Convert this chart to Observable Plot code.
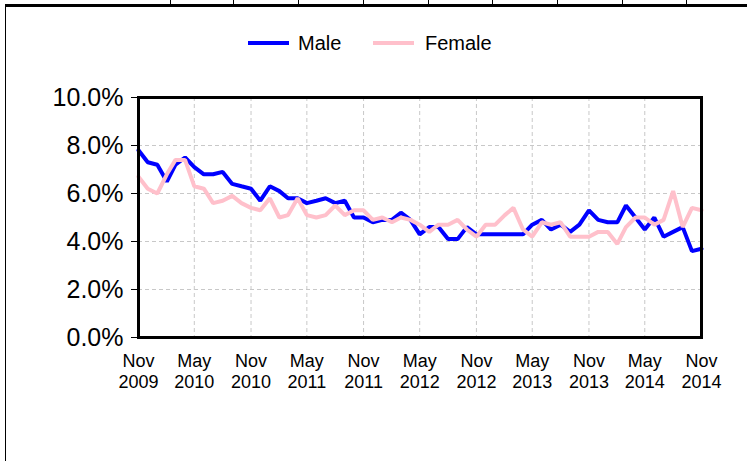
<!DOCTYPE html>
<html>
<head>
<meta charset="utf-8">
<script src="https://cdn.jsdelivr.net/npm/d3@7"></script>
<script src="https://cdn.jsdelivr.net/npm/@observablehq/plot@0.6"></script>
<style>
  html, body { margin: 0; padding: 0; background: #fff; }
  body { width: 747px; height: 461px; position: relative; overflow: hidden; font-family: "Liberation Sans", Arial, sans-serif; }
  .hline { position: absolute; left: 5px; right: 0; top: 4px; height: 3px; background: #000; }
  .vsep { position: absolute; top: 0; width: 1px; height: 5px; background: #000; }
  .lborder { position: absolute; left: 5px; top: 5px; bottom: 0; width: 1px; background: #000; }
  #legend { position: absolute; left: 0; top: 0; width: 747px; height: 70px; }
  .sw { position: absolute; top: 41px; width: 41px; height: 4px; }
  .lab { position: absolute; top: 31px; font-size: 20px; line-height: 24px; color: #000; }
  #chart { position: absolute; left: 0; top: 70px; }
</style>
</head>
<body>
<div id="decor"></div>
<div id="legend"></div>
<div id="chart"></div>
<script>
const startMonth = "2009-11-01";
const seriesNames = ["Male", "Female"];
const seriesColors = ["#0000ff", "#ffc0cb"];
const male = [7.8,7.3,7.2,6.5,7.2,7.5,7.1,6.8,6.8,6.9,6.4,6.3,6.2,5.7,6.3,6.1,5.8,5.8,5.6,5.7,5.8,5.6,5.7,5.0,5.0,4.8,4.9,4.9,5.2,4.9,4.3,4.6,4.6,4.1,4.1,4.6,4.3,4.3,4.3,4.3,4.3,4.3,4.7,4.9,4.5,4.7,4.4,4.7,5.3,4.9,4.8,4.8,5.5,5.0,4.5,5.0,4.2,4.4,4.6,3.6,3.7];
const female = [6.7,6.2,6.0,6.8,7.4,7.4,6.3,6.2,5.6,5.7,5.9,5.6,5.4,5.3,5.8,5.0,5.1,5.8,5.1,5.0,5.1,5.5,5.1,5.3,5.3,4.9,5.0,4.8,5.0,4.9,4.7,4.4,4.7,4.7,4.9,4.5,4.2,4.7,4.7,5.1,5.4,4.5,4.2,4.8,4.7,4.8,4.2,4.2,4.2,4.4,4.4,3.9,4.6,5.0,5.0,4.7,4.9,6.1,4.6,5.4,5.3];
const yTicks = [0, 2, 4, 6, 8, 10];
const xTickLabels = ["Nov\n2009","May\n2010","Nov\n2010","May\n2011","Nov\n2011","May\n2012","Nov\n2012","May\n2013","Nov\n2013","May\n2014","Nov\n2014"];

// decorations (page table borders)
const decor = document.getElementById("decor");
decor.innerHTML = '<div class="hline"></div><div class="lborder"></div>' +
  [170,233,298,363,428,492,557,622,686].map(x => `<div class="vsep" style="left:${x}px"></div>`).join("");

// legend
const legend = document.getElementById("legend");
const legendPos = [[248, 298], [373, 425]];
legend.innerHTML = seriesNames.map((n, i) =>
  `<div class="sw" style="left:${legendPos[i][0]}px;background:${seriesColors[i]}"></div>` +
  `<div class="lab" style="left:${legendPos[i][1]}px">${n}</div>`).join("");

const start = new Date(startMonth + "T00:00:00Z");
const dateAt = i => d3.utcMonth.offset(start, i);
const data = [];
male.forEach((v, i) => data.push({date: dateAt(i), value: v, series: "Male"}));
female.forEach((v, i) => data.push({date: dateAt(i), value: v, series: "Female"}));
const xTicks = xTickLabels.map((_, i) => dateAt(i * 6));
const labelOf = new Map(xTicks.map((d, i) => [+d, xTickLabels[i]]));

const chart = Plot.plot({
  width: 747,
  height: 391,
  marginTop: 27,
  marginLeft: 138,
  marginRight: 46,
  marginBottom: 124,
  style: {fontFamily: "Liberation Sans, Arial, sans-serif", color: "#000", background: "transparent"},
  x: {type: "utc", domain: [start, dateAt(60)]},
  y: {domain: [0, 10]},
  color: {domain: seriesNames, range: seriesColors},
  marks: [
    Plot.gridX(xTicks, {stroke: "#c8c8c8", strokeOpacity: 1, strokeDasharray: "4,3"}),
    Plot.gridY(yTicks, {stroke: "#c8c8c8", strokeOpacity: 1, strokeDasharray: "4,3"}),
    Plot.axisY(yTicks, {tickFormat: d => d.toFixed(1) + "%", fontSize: 25, tickSize: 7, tickPadding: 8, label: null}),
    Plot.axisX(xTicks, {tickFormat: d => labelOf.get(+d), fontSize: 18, lineHeight: 1.15, tickSize: 0, tickPadding: 15, label: null}),
    Plot.line(data, {x: "date", y: "value", z: "series", stroke: "series", strokeWidth: 4, strokeLinejoin: "miter"}),
    Plot.frame({stroke: "#000", strokeWidth: 3})
  ]
});
document.getElementById("chart").appendChild(chart);
</script>
</body>
</html>
